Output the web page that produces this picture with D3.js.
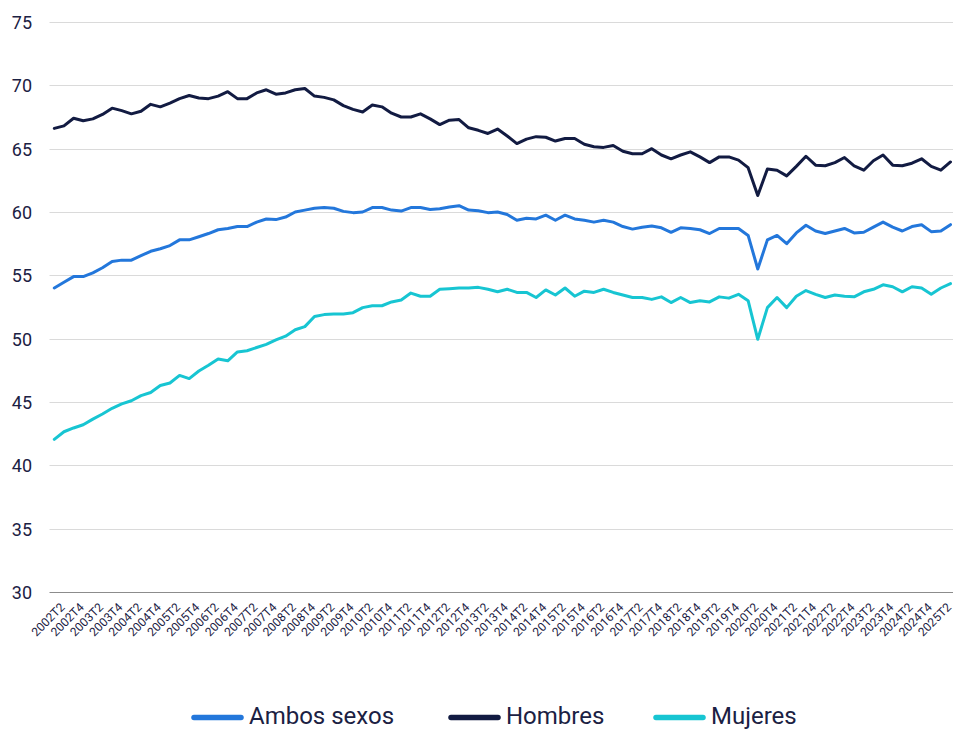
<!DOCTYPE html>
<html>
<head>
<meta charset="utf-8">
<script src="https://cdn.jsdelivr.net/npm/d3@7"></script>
<style>
  html, body { margin: 0; padding: 0; background: #ffffff; }
  svg { display: block; }
</style>
</head>
<body>
<svg id="chart" width="953" height="730"></svg>
<script>
// ---------- DATA ----------
const years = d3.range(2002, 2026);
const categories = [];
years.forEach(y => [1, 2, 3, 4].forEach(q => { if (!(y === 2025 && q > 2)) categories.push(y + "T" + q); }));

const ambosSexos = [
  54.0, 54.45, 54.9, 54.9,
  55.2, 55.6, 56.1, 56.2,
  56.2, 56.55, 56.9, 57.1,
  57.35, 57.8, 57.8, 58.05,
  58.3, 58.6, 58.7, 58.85,
  58.85, 59.2, 59.45, 59.4,
  59.6, 60.0, 60.15, 60.3,
  60.35, 60.3, 60.05, 59.95,
  60.0, 60.35, 60.35, 60.15,
  60.07, 60.35, 60.35, 60.2,
  60.25, 60.4, 60.5, 60.15,
  60.1, 59.95, 60.0, 59.8,
  59.35, 59.5, 59.45, 59.75,
  59.35, 59.75, 59.45, 59.35,
  59.2, 59.35, 59.2, 58.85,
  58.65, 58.8, 58.9, 58.75,
  58.4, 58.75, 58.7, 58.6,
  58.3, 58.7, 58.7, 58.7,
  58.15, 55.5, 57.8, 58.15,
  57.5, 58.35, 58.95, 58.5,
  58.3, 58.5, 58.7, 58.35,
  58.4, 58.8, 59.2, 58.8,
  58.5, 58.85, 59.0, 58.45,
  58.5, 59.0
];
const hombres = [
  66.6, 66.8, 67.4, 67.2,
  67.35, 67.7, 68.2, 68.0,
  67.75, 67.95, 68.5, 68.3,
  68.6, 68.95, 69.2, 69.0,
  68.95, 69.15, 69.5, 68.95,
  68.95, 69.4, 69.65, 69.3,
  69.4, 69.65, 69.75, 69.15,
  69.05, 68.85, 68.4, 68.1,
  67.9, 68.45, 68.3, 67.8,
  67.5, 67.5, 67.75, 67.35,
  66.9, 67.25, 67.3, 66.65,
  66.45, 66.2, 66.55, 66.0,
  65.4, 65.75, 65.95, 65.9,
  65.6, 65.8, 65.8, 65.35,
  65.15, 65.1, 65.25, 64.8,
  64.6, 64.6, 65.0, 64.5,
  64.2, 64.5, 64.75, 64.35,
  63.9, 64.35, 64.35, 64.1,
  63.5, 61.3, 63.4, 63.3,
  62.85, 63.6, 64.4, 63.7,
  63.65, 63.9, 64.3, 63.65,
  63.3, 64.05, 64.5, 63.7,
  63.65, 63.85, 64.2, 63.6,
  63.3, 63.95
];
const mujeres = [
  42.05, 42.65, 42.95, 43.2,
  43.65, 44.05, 44.5, 44.85,
  45.1, 45.5, 45.75, 46.3,
  46.5, 47.1, 46.85, 47.45,
  47.9, 48.4, 48.25, 48.95,
  49.05, 49.3, 49.55, 49.9,
  50.2, 50.7, 50.95, 51.75,
  51.9, 51.95, 51.95, 52.05,
  52.45, 52.6, 52.6, 52.9,
  53.05, 53.6, 53.35, 53.35,
  53.9, 53.95, 54.0, 54.0,
  54.05, 53.9, 53.7, 53.9,
  53.65, 53.65, 53.25, 53.85,
  53.45, 54.0, 53.35, 53.75,
  53.65, 53.9, 53.65, 53.45,
  53.25, 53.25, 53.1, 53.3,
  52.85, 53.25, 52.85, 53.0,
  52.9, 53.3, 53.2, 53.5,
  53.0, 49.95, 52.45, 53.25,
  52.45, 53.35, 53.8, 53.5,
  53.25, 53.45, 53.35, 53.3,
  53.7, 53.9, 54.25, 54.1,
  53.7, 54.1, 54.0, 53.5,
  54.0, 54.35
];
const seriesNames = ["Ambos sexos", "Hombres", "Mujeres"];
const seriesColors = ["#2377db", "#121b42", "#17c5d2"];
const yTicks = [30, 35, 40, 45, 50, 55, 60, 65, 70, 75];
const xTickLabels = categories.filter((c, i) => i % 2 === 1);

// ---------- CHART ----------
const svg = d3.select("#chart");
const textColor = "#1b2143";
const fontFam = "Roboto, 'Noto Sans', sans-serif";

const plotLeft = 49.5, plotRight = 953;
const x = d3.scalePoint().domain(categories).range([54.3, 950.5]);
const y = d3.scaleLinear().domain([30, 75]).range([592, 22]);

// y axis labels
const yAxis = d3.axisLeft(y).tickValues(yTicks).tickSize(0).tickPadding(0).tickFormat(d3.format("d"));
const gy = svg.append("g").attr("transform", "translate(32,0)").call(yAxis);
gy.select(".domain").remove();
gy.selectAll("text")
  .attr("font-family", fontFam).attr("font-size", 18).attr("fill", textColor)
  .attr("text-anchor", "end").attr("dy", "0.36em");

// gridlines
svg.append("g").selectAll("line")
  .data(yTicks.filter(t => t !== 30))
  .join("line")
  .attr("x1", plotLeft).attr("x2", plotRight)
  .attr("y1", d => Math.round(y(d)) + 0.5).attr("y2", d => Math.round(y(d)) + 0.5)
  .attr("stroke", "#dadada").attr("stroke-width", 1);

// x axis
svg.append("line")
  .attr("x1", plotLeft).attr("x2", plotRight)
  .attr("y1", Math.round(y(30)) + 0.5).attr("y2", Math.round(y(30)) + 0.5)
  .attr("stroke", "#8c8c8c").attr("stroke-width", 1);

const xAxis = d3.axisBottom(x).tickValues(xTickLabels).tickSize(0).tickPadding(0);
const gx = svg.append("g").call(xAxis);
gx.select(".domain").remove();
gx.selectAll(".tick").attr("transform", d => `translate(${x(d) + 1.5},608)`);
gx.selectAll("text")
  .attr("font-family", fontFam).attr("font-size", 12).attr("fill", textColor)
  .attr("text-anchor", "end").attr("x", 0).attr("y", 0).attr("dy", 0)
  .attr("transform", "rotate(-45)");

// lines
const allSeries = [ambosSexos, hombres, mujeres];
const line = d3.line().x((d, i) => x(categories[i])).y(d => y(d));
svg.append("g").selectAll("path")
  .data(allSeries)
  .join("path")
  .attr("d", d => line(d))
  .attr("fill", "none")
  .attr("stroke", (d, i) => seriesColors[i])
  .attr("stroke-width", 3)
  .attr("stroke-linejoin", "round")
  .attr("stroke-linecap", "round");

// legend
const legendX = [192, 449, 654];
const lg = svg.append("g").selectAll("g").data(seriesNames).join("g")
  .attr("transform", (d, i) => `translate(${legendX[i]},717.5)`);
lg.append("line")
  .attr("x1", 2).attr("x2", 49).attr("y1", 0).attr("y2", 0)
  .attr("stroke", (d, i) => seriesColors[i]).attr("stroke-width", 5.5)
  .attr("stroke-linecap", "round");
lg.append("text")
  .attr("x", 57).attr("y", 6.2)
  .attr("font-family", fontFam).attr("font-size", 24).attr("fill", textColor)
  .text(d => d);
</script>
</body>
</html>
